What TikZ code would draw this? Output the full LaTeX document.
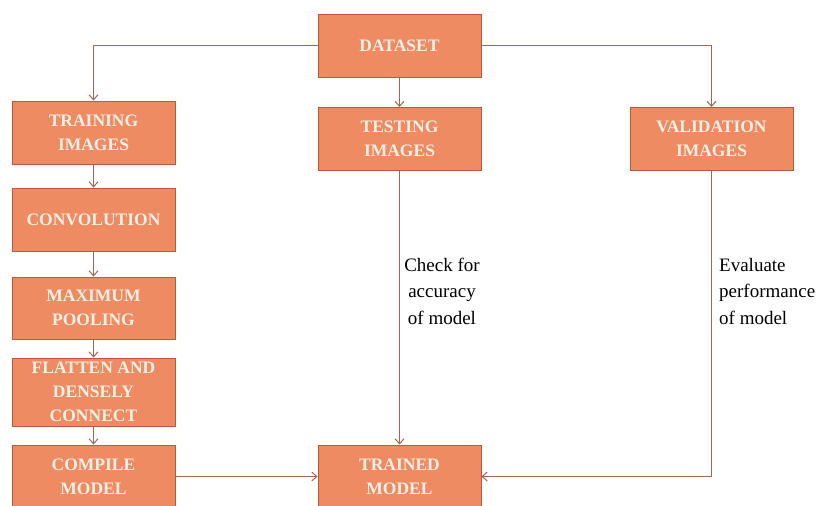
\documentclass[tikz,border=0pt]{standalone}
\usepackage{fontspec}
\setmainfont{Liberation Serif}
\usetikzlibrary{arrows.meta}
\definecolor{boxfill}{HTML}{EE8B63}
\definecolor{boxline}{HTML}{C0563C}
\definecolor{connc}{HTML}{A5654F}
\definecolor{boxtext}{HTML}{FCEFE3}
\begin{document}
\begin{tikzpicture}[x=1pt,y=-1pt,
  box/.style={draw=boxline, line width=1pt, fill=boxfill, text=boxtext,
    font=\fontsize{17.5}{24}\selectfont\bfseries, align=center,
    minimum width=163pt, minimum height=63pt, inner sep=0pt},
  connector/.style={draw=connc, line width=1pt, -{Straight Barb[length=5pt,width=9pt]}},
  lbl/.style={font=\fontsize{19}{26.5}\selectfont, text=black, inner sep=0pt}]
\useasboundingbox[fill=white] (0,0) rectangle (823,506);
\node[box] (dataset) at (399.5,45.5) {DATASET};
\node[box] (train) at (93.5,132.5) {TRAINING\\IMAGES};
\node[box] (test) at (399.5,139) {TESTING\\IMAGES};
\node[box] (valid) at (711.5,139) {VALIDATION\\IMAGES};
\node[box] (conv) at (93.5,219.5) {CONVOLUTION};
\node[box, minimum height=62pt] (pool) at (93.5,308) {MAXIMUM\\POOLING};
\node[box, minimum height=68pt] (flat) at (93.5,392) {FLATTEN AND\\DENSELY\\CONNECT};
\node[box] (compile) at (93.5,476.5) {COMPILE\\MODEL};
\node[box] (trained) at (399.5,476.5) {TRAINED\\MODEL};
\draw[connector] (dataset.west) -| (train.north);
\draw[connector] (dataset.east) -| (valid.north);
\draw[connector] (dataset.south) -- (test.north);
\draw[connector] (train.south) -- (conv.north);
\draw[connector] (conv.south) -- (pool.north);
\draw[connector] (pool.south) -- (flat.north);
\draw[connector] (flat.south) -- (compile.north);
\draw[connector] (compile.east) -- (trained.west);
\draw[connector] (test.south) -- (trained.north);
\draw[connector] (valid.south) |- (trained.east);
\node[lbl, align=center] (chk) at (442,291) {Check for\\accuracy\\of model};
\node[lbl, align=left, anchor=west] (eval) at (719,291) {Evaluate\\performance\\of model};
\end{tikzpicture}
\end{document}
